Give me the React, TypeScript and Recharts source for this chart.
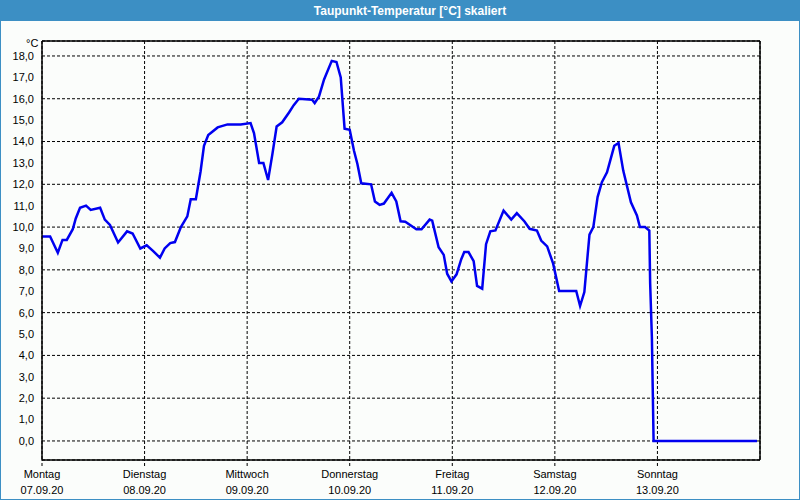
import React from 'react';
import { LineChart, Line, XAxis, YAxis, CartesianGrid, ReferenceLine } from 'recharts';

// hours since Monday 00:00
const hours = [
  0, 1.9, 3.7, 4.8, 5.8, 7.2, 7.9, 8.9, 10.3, 11.4, 13.6, 14.7, 15.9, 17.8, 19.9, 21.2, 23.0,
  24.5, 25.9, 27.6, 28.7, 30.0, 31.1, 32.5, 34.0, 34.8, 36.0, 37.1, 37.9, 38.9, 41.1, 43.4, 46.5,
  48.8, 49.6, 50.8, 51.8, 52.9, 53.9, 54.9, 56.2, 57.8, 58.9, 60.1, 63.2, 63.8, 64.8, 66.0, 67.8,
  68.9, 69.9, 70.8, 72.0, 73.0, 73.8, 74.7, 77.0, 77.9, 79.0, 80.0, 81.8, 82.9, 83.9, 85.0, 87.6,
  88.8, 90.7, 91.3, 92.8, 94.0, 94.8, 95.8, 97.0, 98.1, 98.8, 99.8, 101.0, 101.8, 103.0, 103.9,
  104.9, 106.1, 108.0, 109.8, 111.1, 112.9, 114.1, 115.8, 116.8, 118.2, 119.6, 121.0, 125.0,
  125.9, 126.9, 128.1, 129.0, 130.0, 131.0, 132.2, 133.9, 134.9, 136.0, 137.8, 139.2, 139.9,
  141.1, 142.1, 142.3, 142.7, 142.9, 143.1, 167.3,
];

const dewPoint = [
  9.56, 9.56, 8.8, 9.4, 9.4, 9.9, 10.4, 10.9, 11.0, 10.8, 10.9, 10.35, 10.1, 9.28, 9.8, 9.7, 9.0,
  9.15, 8.9, 8.57, 9.0, 9.25, 9.3, 10.0, 10.5, 11.3, 11.3, 12.6, 13.8, 14.3, 14.66, 14.8, 14.8,
  14.86, 14.4, 13.0, 13.0, 12.2, 13.4, 14.7, 14.9, 15.36, 15.7, 16.0, 15.95, 15.8, 16.1, 16.9, 17.77,
  17.72, 17.0, 14.6, 14.55, 13.57, 12.95, 12.05, 12.0, 11.2, 11.04, 11.1, 11.6, 11.2, 10.27, 10.25, 9.9,
  9.9, 10.35, 10.3, 9.06, 8.7, 7.82, 7.46, 7.79, 8.5, 8.83, 8.83, 8.41, 7.25, 7.12, 9.2,
  9.8, 9.84, 10.77, 10.35, 10.65, 10.26, 9.92, 9.84, 9.37, 9.1, 8.29, 7.01, 7.01,
  6.31, 6.96, 9.65, 10.0, 11.4, 12.1, 12.56, 13.8, 13.93, 12.64, 11.16, 10.54, 10.0,
  10.0, 9.84, 7.36, 4.86, 2.46, 0.0, 0.0,
];

const dayNames = ['Montag', 'Dienstag', 'Mittwoch', 'Donnerstag', 'Freitag', 'Samstag', 'Sonntag'];
const dayDates = ['07.09.20', '08.09.20', '09.09.20', '10.09.20', '11.09.20', '12.09.20', '13.09.20'];
const dayTicks = [0, 24, 48, 72, 96, 120, 144];
const tempTicks = [0, 1, 2, 3, 4, 5, 6, 7, 8, 9, 10, 11, 12, 13, 14, 15, 16, 17, 18];

const data = hours.map((h, i) => ({ h, v: dewPoint[i] }));

const font = '"Liberation Sans", Arial, sans-serif';

const DayTick = (props: any) => {
  const { x, y, payload } = props;
  const i = dayTicks.indexOf(payload.value);
  return (
    <text x={x} y={y} textAnchor="middle" fontSize={11} fontFamily={font} fill="#000">
      <tspan x={x} dy={10}>{dayNames[i]}</tspan>
      <tspan x={x} dy={16}>{dayDates[i]}</tspan>
    </text>
  );
};

export default function App() {
  return (
    <div
      style={{
        position: 'absolute',
        left: 0,
        top: 0,
        width: 800,
        height: 500,
        boxSizing: 'border-box',
        border: '1px solid #3c8fc4',
        background: '#fbfdfb',
        fontFamily: font,
      }}
    >
      <div
        style={{
          position: 'absolute',
          left: 0,
          top: 0,
          width: 798,
          height: 20,
          background: '#3c8fc4',
          color: '#fff',
          fontWeight: 'bold',
          fontSize: 12,
          lineHeight: '20px',
          textAlign: 'center',
          paddingLeft: 20,
          boxSizing: 'border-box',
        }}
      >
        Taupunkt-Temperatur [°C] skaliert
      </div>
      <div style={{ position: 'absolute', left: 25, top: 36, fontSize: 11, lineHeight: '12px', color: '#000' }}>°C</div>
      <div style={{ position: 'absolute', left: -1, top: -1 }}>
        <LineChart width={800} height={500} data={data} margin={{ top: 41, right: 40, bottom: 0, left: 0 }}>
          <CartesianGrid stroke="#000" strokeDasharray="3 2" />
          <XAxis
            dataKey="h"
            type="number"
            domain={[0, 168]}
            ticks={dayTicks}
            height={40}
            tick={<DayTick />}
            tickLine={{ stroke: '#000', strokeDasharray: '3 2' }}
            tickSize={6}
            axisLine={{ stroke: '#000', strokeWidth: 1.5 }}
            allowDataOverflow
          />
          <YAxis
            type="number"
            domain={[-0.89, 18.7]}
            ticks={tempTicks}
            width={42}
            tickLine={false}
            tickFormatter={(v: number) => v.toFixed(1).replace('.', ',')}
            tick={{ fontSize: 11, fill: '#000', fontFamily: font }}
            axisLine={{ stroke: '#000', strokeWidth: 1.5 }}
            allowDataOverflow
          />
          <ReferenceLine y={18.7} stroke="#000" strokeWidth={1.5} />
          <ReferenceLine x={168} stroke="#000" strokeWidth={1.5} />
          <Line
            type="linear"
            dataKey="v"
            stroke="#0000f0"
            strokeWidth={2.5}
            dot={false}
            isAnimationActive={false}
          />
        </LineChart>
      </div>
    </div>
  );
}
